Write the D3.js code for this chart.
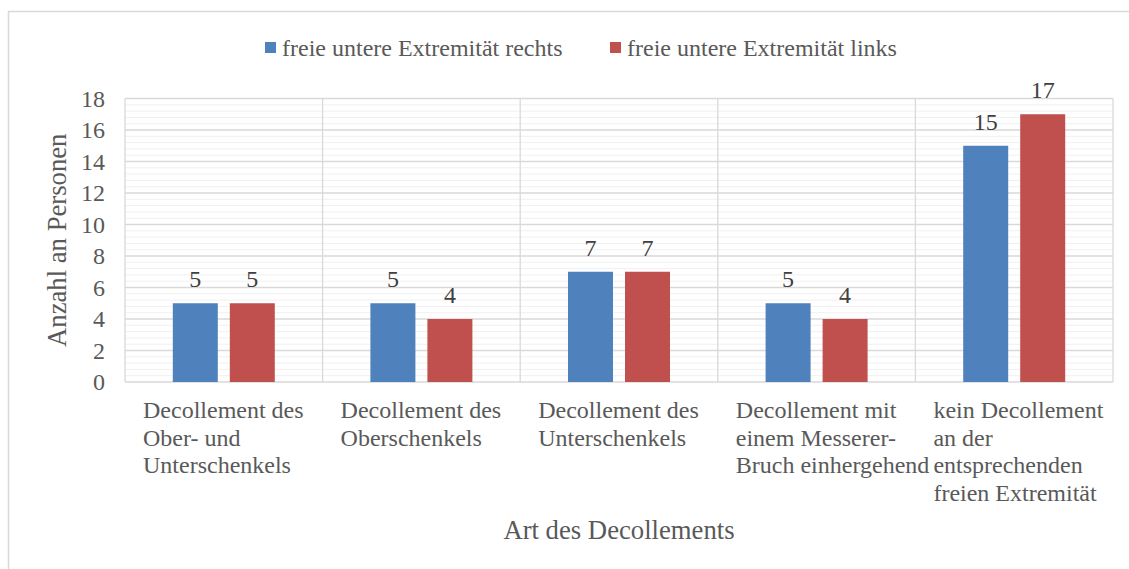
<!DOCTYPE html>
<html>
<head>
<meta charset="utf-8">
<script src="https://cdn.jsdelivr.net/npm/d3@7"></script>
<style>
  body { margin: 0; background: #fff; }
</style>
</head>
<body>
<svg id="chart" width="1129" height="569" font-family="Liberation Serif, Times New Roman, serif"></svg>
<script>
// Daten
const categories = [
    ["Decollement des", "Ober- und", "Unterschenkels"],
    ["Decollement des", "Oberschenkels"],
    ["Decollement des", "Unterschenkels"],
    ["Decollement mit", "einem Messerer-", "Bruch einhergehend"],
    ["kein Decollement", "an der", "entsprechenden", "freien Extremität"]
];
const seriesNames = ["freie untere Extremität rechts", "freie untere Extremität links"];
const rechts = [5, 5, 7, 5, 15];
const links = [5, 4, 7, 4, 17];
const yTicks = [0, 2, 4, 6, 8, 10, 12, 14, 16, 18];
const colors = ["#4f81bd", "#c0504d"];

const FONT = "Liberation Serif, Times New Roman, serif";
const svg = d3.select("#chart");
const margin = {left: 125, top: 98.5, right: 1113, bottom: 382};

// rahmen
svg.append("rect")
    .attr("x", 8.5).attr("y", 11.5)
    .attr("width", 1130).attr("height", 570)
    .attr("fill", "none").attr("stroke", "#d9d9d9").attr("stroke-width", 1.5);

let x = d3.scaleBand().domain(d3.range(categories.length)).range([margin.left, margin.right]);
let y = d3.scaleLinear().domain([0, 18]).range([margin.bottom, margin.top]);

let grid = svg.append("g");

// kleine Gitterlinien (alle 0.4)
let minor = d3.range(0, 18.001, 0.4).filter(v => Math.abs(v / 2 - Math.round(v / 2)) > 0.01);
grid.selectAll(".minor").data(minor).enter().append("line")
    .attr("x1", margin.left).attr("x2", margin.right)
    .attr("y1", d => y(d)).attr("y2", d => y(d))
    .style("stroke", "#f0f0f0").style("stroke-width", 1);

grid.selectAll(".major").data(yTicks).enter().append("line")
    .attr("x1", margin.left).attr("x2", margin.right)
    .attr("y1", d => y(d)).attr("y2", d => y(d))
    .style("stroke", "#d9d9d9").style("stroke-width", 1.3);

// vertikale Trennlinien
grid.selectAll(".vert").data(d3.range(categories.length + 1)).enter().append("line")
    .attr("x1", d => margin.left + d * x.step()).attr("x2", d => margin.left + d * x.step())
    .attr("y1", margin.top).attr("y2", margin.bottom)
    .style("stroke", "#d9d9d9").style("stroke-width", 1.3);

// y Achse
let yAxis = svg.append("g")
    .attr("transform", "translate(" + (margin.left - 20) + ",0)")
    .call(d3.axisLeft(y).tickValues(yTicks).tickSize(0).tickPadding(0));
yAxis.attr("font-family", FONT).attr("font-size", 24);
yAxis.select(".domain").remove();
yAxis.selectAll("text")
    .attr("fill", "#595959")
    .attr("dy", "0.33em");

// Balken
const barW = 45, gap = 12;
let series = [rechts, links];
series.forEach(function (values, s) {
    let g = svg.append("g");
    values.forEach(function (v, i) {
        let cx = x(i) + x.bandwidth() / 2;
        let bx = s === 0 ? cx - gap / 2 - barW : cx + gap / 2;
        g.append("rect")
            .attr("x", bx).attr("y", y(v))
            .attr("width", barW).attr("height", y(0) - y(v))
            .attr("fill", colors[s]);
        g.append("text")
            .attr("x", bx + barW / 2).attr("y", y(v) - 16)
            .attr("text-anchor", "middle")
            .attr("font-family", FONT).attr("font-size", 24)
            .attr("fill", "#404040")
            .text(v);
    });
});

// Kategorien
categories.forEach(function (lines, i) {
    let t = svg.append("text")
        .attr("x", x(i) + 18).attr("y", 418)
        .attr("font-family", FONT).attr("font-size", 24)
        .attr("fill", "#595959");
    lines.forEach(function (l, k) {
        t.append("tspan").attr("x", x(i) + 18).attr("dy", k === 0 ? 0 : 27.5).text(l);
    });
});

// Achsentitel
svg.append("text")
    .attr("x", 619).attr("y", 539)
    .attr("text-anchor", "middle")
    .attr("font-family", FONT).attr("font-size", 26.7)
    .attr("fill", "#595959")
    .text("Art des Decollements");

svg.append("text")
    .attr("transform", "translate(66," + ((margin.top + margin.bottom) / 2) + ") rotate(-90)")
    .attr("text-anchor", "middle")
    .attr("font-family", FONT).attr("font-size", 26.7)
    .attr("fill", "#595959")
    .text("Anzahl an Personen");

// Legende
const legendX = [265, 610];
seriesNames.forEach(function (name, s) {
    svg.append("rect")
        .attr("x", legendX[s]).attr("y", 42)
        .attr("width", 11).attr("height", 11)
        .attr("fill", colors[s]);
    svg.append("text")
        .attr("x", legendX[s] + 17).attr("y", 56)
        .attr("font-family", FONT).attr("font-size", 24)
        .attr("fill", "#595959")
        .text(name);
});
</script>
</body>
</html>
